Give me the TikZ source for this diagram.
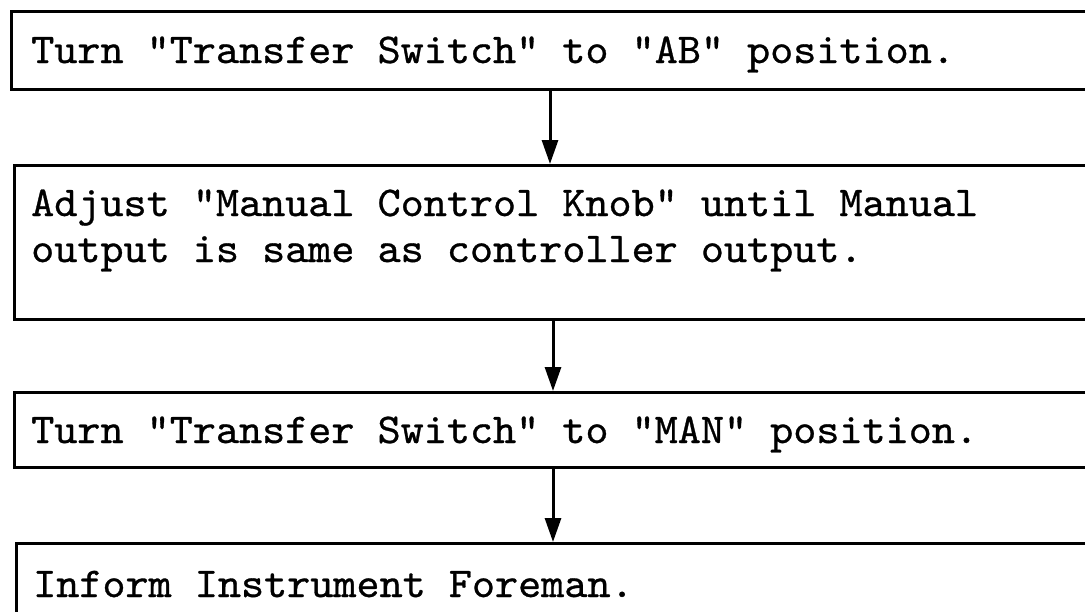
\documentclass[tikz,border=0pt]{standalone}
\usepackage{fontspec}
\usepackage{graphicx}
\newfontfamily\twfont{lmmono10-regular}[Extension=.otf, FakeBold=0.7]
\usetikzlibrary{arrows.meta}
\newcommand{\twtext}[1]{\scalebox{1.035}[1]{\twfont\fontsize{42.5}{46}\selectfont #1}}
\begin{document}
\begin{tikzpicture}[x=1pt,y=-1pt,
  box/.style={draw, line width=3pt, anchor=north west, minimum width=1200pt, inner sep=0pt},
  txt/.style={anchor=base west, inner sep=0pt},
  arr/.style={line width=3pt, -{Triangle[length=24pt,width=16pt]}}]
\useasboundingbox (0,0) rectangle (1085,611);
\clip (0,0) rectangle (1085,611);
\node[box, minimum height=78pt] (b1) at (10,10) {};
\node[box, minimum height=154pt] (b2) at (13,164) {};
\node[box, minimum height=75pt] (b3) at (13,391) {};
\node[box, minimum height=120pt] (b4) at (15,542) {};
\node[txt] (t1) at (31,63) {\twtext{Turn "Transfer Switch" to "AB" position.}};
\node[txt] (t2a) at (31,216) {\twtext{Adjust "Manual Control Knob" until Manual}};
\node[txt] (t2b) at (31,262) {\twtext{output is same as controller output.}};
\node[txt] (t3) at (31,443) {\twtext{Turn "Transfer Switch" to "MAN" position.}};
\node[txt] (t4) at (33,597) {\twtext{Inform Instrument Foreman.}};
\coordinate (xa) at (550,0);
\coordinate (xb) at (553,0);
\draw[arr] (b1.south -| xa) -- (b2.north -| xa);
\draw[arr] (b2.south -| xb) -- (b3.north -| xb);
\draw[arr] (b3.south -| xb) -- (b4.north -| xb);
\end{tikzpicture}
\end{document}
